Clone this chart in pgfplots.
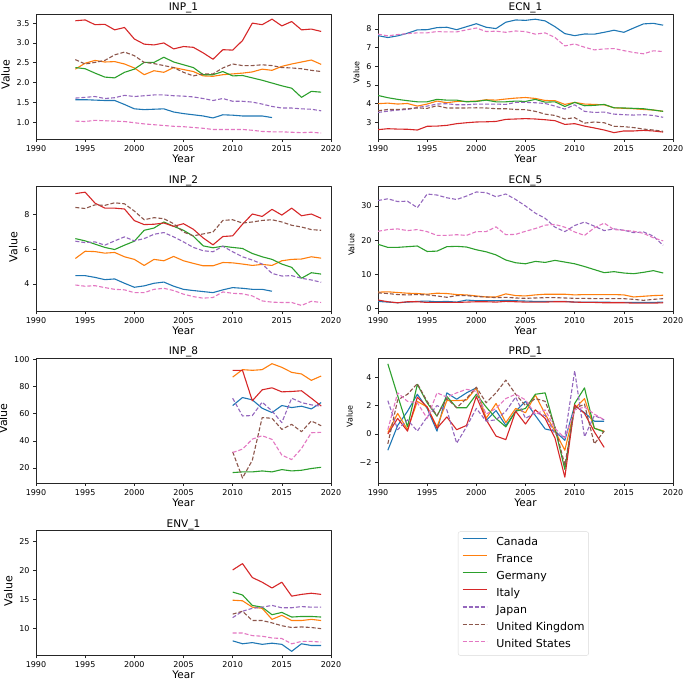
\documentclass[border=0pt]{standalone}
\usepackage{pgfplots}
\usepackage{pgfplotstable}
\pgfplotsset{compat=1.18}
\usepackage{fontspec}
\setmainfont{DejaVu Sans}
\definecolor{cCA}{HTML}{1F77B4}
\definecolor{cFR}{HTML}{FF7F0E}
\definecolor{cDE}{HTML}{2CA02C}
\definecolor{cIT}{HTML}{D62728}
\definecolor{cJP}{HTML}{9467BD}
\definecolor{cUK}{HTML}{8C564B}
\definecolor{cUS}{HTML}{E377C2}

\pgfplotstableread{
year CA FR DE IT JP UK US
1994 1.57 2.34 2.38 3.56 1.61 2.58 1.03
1995 1.57 2.49 2.35 3.58 1.63 2.47 1.02
1996 1.56 2.56 2.24 3.46 1.65 2.51 1.05
1997 1.55 2.52 2.14 3.47 1.60 2.56 1.04
1998 1.55 2.53 2.12 3.33 1.62 2.70 1.03
1999 1.45 2.47 2.26 3.39 1.68 2.77 1.02
2000 1.34 2.37 2.34 3.10 1.65 2.68 0.99
2001 1.32 2.20 2.51 2.97 1.67 2.51 0.96
2002 1.33 2.30 2.51 2.95 1.69 2.48 0.94
2003 1.34 2.26 2.64 3.00 1.69 2.43 0.92
2004 1.26 2.38 2.52 2.85 1.67 2.38 0.90
2005 1.22 2.33 2.45 2.91 1.66 2.26 0.89
2006 1.19 2.28 2.38 2.89 1.64 2.17 0.87
2007 1.16 2.17 2.20 2.75 1.60 2.22 0.85
2008 1.11 2.16 2.20 2.59 1.55 2.22 0.82
2009 1.19 2.20 2.28 2.83 1.60 2.37 0.82
2010 1.18 2.22 2.17 2.82 1.53 2.47 0.82
2011 1.16 2.24 2.18 3.06 1.53 2.43 0.82
2012 1.16 2.27 2.12 3.50 1.51 2.43 0.80
2013 1.16 2.34 2.06 3.46 1.46 2.45 0.77
2014 1.12 2.31 1.99 3.60 1.40 2.43 0.76
2015 nan 2.41 1.92 3.43 1.36 2.38 0.76
2016 nan 2.47 1.86 3.54 1.36 2.37 0.75
2017 nan 2.52 1.63 3.33 1.34 2.35 0.74
2018 nan 2.57 1.78 3.35 1.33 2.31 0.75
2019 nan 2.46 1.76 3.29 1.29 2.28 0.73
}\tINPa

\pgfplotstableread{
year CA FR DE IT JP UK US
1990 7.64 4.00 4.44 2.61 3.53 3.62 7.72
1991 7.54 4.03 4.32 2.66 3.60 3.69 7.63
1992 7.63 3.98 4.23 2.64 3.66 3.69 7.70
1993 7.77 4.01 4.16 2.63 3.69 3.73 7.75
1994 7.95 3.87 4.10 2.59 3.80 3.77 7.79
1995 7.96 3.98 4.10 2.79 3.87 3.75 7.79
1996 8.07 4.14 4.23 2.80 3.98 3.89 7.86
1997 8.09 4.05 4.19 2.84 4.00 3.77 7.84
1998 7.96 4.12 4.19 2.93 3.94 3.77 7.84
1999 8.12 4.12 4.10 2.98 3.94 3.77 7.95
2000 8.28 4.14 4.12 3.02 3.98 3.78 8.05
2001 8.09 4.21 4.19 3.03 3.98 3.77 7.86
2002 8.02 4.19 4.10 3.05 3.98 3.73 7.88
2003 8.36 4.25 4.10 3.16 3.96 3.73 7.82
2004 8.48 4.30 4.14 3.18 4.07 3.69 7.89
2005 8.46 4.33 4.12 3.20 4.07 3.68 7.86
2006 8.52 4.28 4.23 3.18 4.05 3.59 7.72
2007 8.43 4.17 4.08 3.14 4.01 3.44 7.79
2008 8.12 4.16 4.10 3.09 3.87 3.37 7.54
2009 7.75 3.96 3.85 2.89 3.71 3.18 7.09
2010 7.64 4.07 4.07 2.93 3.94 3.25 7.20
2011 7.73 3.98 3.89 2.80 3.59 2.96 7.02
2012 7.72 3.96 3.91 2.70 3.53 3.02 6.88
2013 7.82 3.94 3.96 2.59 3.55 2.98 6.93
2014 7.93 3.78 3.78 2.45 3.44 2.79 6.95
2015 7.82 3.75 3.77 2.54 3.41 2.77 6.84
2016 8.05 3.73 3.75 2.54 3.39 2.72 6.74
2017 8.27 3.69 3.73 2.57 3.41 2.64 6.67
2018 8.30 3.66 3.66 2.54 3.37 2.59 6.83
2019 8.20 3.59 3.59 2.48 3.27 2.52 6.79
}\tECNa

\pgfplotstableread{
year CA FR DE IT JP UK US
1994 4.48 5.47 6.62 9.22 6.47 8.42 3.94
1995 4.48 5.89 6.49 9.30 6.39 8.36 3.87
1996 4.38 5.87 6.30 8.67 6.43 8.57 3.90
1997 4.25 5.78 6.11 8.38 6.24 8.54 3.79
1998 4.29 5.82 5.99 8.38 6.49 8.69 3.69
1999 4.04 5.57 6.24 8.33 6.72 8.63 3.66
2000 3.81 5.42 6.47 7.66 6.49 8.21 3.50
2001 3.89 5.07 7.10 7.43 6.62 7.71 3.50
2002 4.04 5.42 7.23 7.45 6.87 7.83 3.69
2003 4.11 5.34 7.58 7.52 6.97 7.77 3.75
2004 3.87 5.59 7.33 7.33 6.72 7.48 3.62
2005 3.69 5.34 7.10 7.48 6.43 7.00 3.41
2006 3.62 5.19 6.76 7.16 6.11 6.78 3.27
2007 3.56 5.05 6.20 6.66 5.92 6.89 3.18
2008 3.50 5.05 6.09 6.26 5.86 7.00 3.22
2009 3.66 5.24 6.18 6.74 6.18 7.67 3.54
2010 3.79 5.22 6.11 6.78 5.86 7.71 3.46
2011 3.75 5.15 6.05 7.45 5.57 7.52 3.43
2012 3.69 5.07 5.76 8.04 5.38 7.58 3.31
2013 3.69 5.13 5.57 7.90 5.15 7.67 3.02
2014 3.58 5.07 5.42 8.31 4.61 7.71 2.95
2015 nan 5.34 5.15 7.98 4.46 7.58 2.93
2016 nan 5.42 4.96 8.38 4.48 7.39 2.93
2017 nan 5.44 4.33 7.94 4.33 7.29 2.76
2018 nan 5.57 4.65 8.04 4.23 7.14 3.00
2019 nan 5.49 4.57 7.79 4.10 7.10 2.93
}\tINPb

\pgfplotstableread{
year CA FR DE IT JP UK US
1990 2.1 4.8 18.8 2.5 31.6 4.6 22.6
1991 1.9 4.9 17.9 2.0 32.1 4.4 23.1
1992 1.7 4.7 17.9 1.7 31.3 4.1 23.3
1993 1.9 4.5 18.1 2.0 31.4 4.0 22.8
1994 2.1 4.4 18.3 2.0 29.5 4.1 23.1
1995 2.2 4.2 16.7 1.8 33.5 4.0 22.5
1996 2.0 4.5 16.8 1.8 33.2 3.7 21.4
1997 2.1 4.4 18.1 1.8 32.4 3.3 21.4
1998 1.9 4.1 18.2 1.8 31.9 3.8 21.6
1999 2.5 4.0 18.0 1.9 32.9 3.8 21.4
2000 2.3 3.7 17.2 2.0 34.1 3.5 22.5
2001 2.3 3.4 16.6 2.0 33.9 3.4 22.5
2002 2.3 3.4 15.7 1.9 32.7 3.2 23.9
2003 2.4 4.3 14.2 2.1 33.5 3.3 21.6
2004 2.3 3.8 13.4 2.0 31.9 3.1 21.7
2005 2.2 3.7 13.1 1.9 30.0 3.0 22.6
2006 2.1 4.0 13.8 1.9 27.9 3.1 23.4
2007 2.1 4.2 13.5 1.9 26.4 3.2 24.4
2008 2.1 4.2 14.1 2.0 23.8 3.2 24.6
2009 2.1 4.2 13.6 2.0 22.5 3.1 23.8
2010 1.9 4.0 13.1 1.9 24.3 3.0 22.4
2011 1.9 4.1 12.3 1.8 25.3 3.0 21.4
2012 1.9 4.1 11.4 1.8 24.1 2.9 23.6
2013 1.9 4.1 10.5 1.7 22.8 2.9 25.0
2014 1.8 4.1 10.8 1.7 23.3 2.9 23.1
2015 1.8 4.0 10.4 1.7 22.9 2.9 22.9
2016 1.8 3.4 10.2 1.6 22.2 2.7 22.6
2017 1.8 3.6 10.6 1.6 22.4 2.4 22.0
2018 1.8 3.8 11.1 1.6 21.2 2.7 20.7
2019 1.9 3.9 10.4 1.7 18.5 2.9 19.8
}\tECNb

\pgfplotstableread{
year CA FR DE IT JP UK US
2010 66.1 87.1 16.6 92.1 71.5 31.9 31.4
2011 72.0 92.6 17.1 92.1 58.4 12.6 33.9
2012 70.3 92.1 17.1 69.6 58.7 25.7 41.3
2013 64.1 92.6 17.8 77.7 68.6 57.2 43.8
2014 60.9 97.0 17.1 79.2 62.1 56.7 41.1
2015 66.1 94.3 18.8 76.2 53.5 48.5 29.5
2016 64.6 90.6 17.8 76.5 71.5 52.2 26.2
2017 65.6 89.4 18.3 77.0 68.3 46.8 34.4
2018 63.6 84.7 19.6 71.5 66.6 54.7 46.0
2019 68.3 87.9 20.5 65.8 65.6 51.2 46.3
}\tINPc

\pgfplotstableread{
year CA FR DE IT JP UK US
1991 -1.15 0.1 4.95 0.0 2.35 -0.7 0.3
1992 0.6 1.45 2.7 1.1 0.3 2.4 2.9
1993 1.6 0.3 0.5 0.2 1.0 2.8 2.3
1994 2.8 2.3 3.5 2.6 0.2 3.55 2.2
1995 1.8 1.9 2.2 1.9 1.2 2.3 1.1
1996 0.2 0.5 1.25 0.4 2.0 1.3 2.9
1997 2.9 2.35 2.65 1.2 1.7 2.5 2.6
1998 2.45 2.35 1.85 0.3 -0.65 1.85 2.9
1999 2.9 2.4 1.85 0.6 0.5 2.5 3.15
2000 3.25 3.25 2.8 2.65 1.8 3.3 3.0
2001 0.95 1.1 1.9 1.0 0.9 2.2 1.4
2002 1.65 2.15 1.1 -0.15 1.0 2.9 1.8
2003 0.6 0.8 0.5 -0.4 1.6 3.8 2.5
2004 1.6 1.8 1.6 1.6 2.6 2.8 2.8
2005 2.3 1.5 1.8 0.7 1.1 2.0 2.4
2006 1.3 2.75 2.8 1.7 1.5 2.5 1.4
2007 0.35 1.4 2.9 1.1 1.3 2.3 1.7
2008 0.2 0.2 0.4 -0.3 0.0 0.5 0.4
2009 -0.45 -1.15 -2.5 -3.05 -0.2 -2.2 -0.3
2010 2.0 1.8 2.15 2.05 4.45 1.8 1.7
2011 1.5 2.5 3.25 1.45 -0.2 2.1 1.9
2012 0.9 0.4 0.4 0.15 1.3 -0.7 1.4
2013 0.9 0.2 0.15 -0.95 1.0 0.2 1.0
}\tPRD

\pgfplotstableread{
year CA FR DE IT JP UK US
2010 7.9 14.9 16.3 20.1 11.9 12.5 9.25
2011 7.4 14.8 15.8 21.2 13.0 13.0 9.25
2012 7.6 13.7 14.0 18.8 13.5 11.4 8.8
2013 7.3 13.5 13.7 18.0 13.7 11.4 8.7
2014 7.5 11.6 12.4 17.0 14.0 11.0 8.4
2015 7.3 12.3 12.8 18.0 13.6 10.5 8.3
2016 6.1 11.4 12.0 15.6 13.6 10.2 7.4
2017 7.4 11.4 12.1 15.9 13.8 10.3 7.8
2018 7.1 11.6 12.1 16.1 13.7 10.2 7.8
2019 7.1 11.4 12.0 15.9 13.7 10.0 7.7
}\tENV

\newcommand{\plotall}[1]{%
  \addplot[cCA, line width=1.1pt] table[x=year,y=CA]{#1};
  \addplot[cFR, line width=1.1pt] table[x=year,y=FR]{#1};
  \addplot[cDE, line width=1.1pt] table[x=year,y=DE]{#1};
  \addplot[cIT, line width=1.1pt] table[x=year,y=IT]{#1};
  \addplot[cJP, line width=1.1pt, dash pattern=on 4pt off 2pt] table[x=year,y=JP]{#1};
  \addplot[cUK, line width=1.1pt, dash pattern=on 4pt off 2pt] table[x=year,y=UK]{#1};
  \addplot[cUS, line width=1.1pt, dash pattern=on 4pt off 2pt] table[x=year,y=US]{#1};
}

\pgfplotsset{
  base/.style={
    scale only axis, width=295pt, height=125pt, anchor=south west,
    xmin=1990, xmax=2020, xtick={1990,1995,...,2020},
    tick align=outside, major tick length=3pt,
    tick style={black!85, line width=0.6pt},
    axis line style={black!85, line width=0.6pt},
    xtick pos=bottom, ytick pos=left,
    ticklabel style={font=\fontsize{8}{9}\selectfont},
    /pgf/number format/assume math mode=true,
    /pgf/number format/1000 sep={},
    title style={font=\fontsize{10.5}{12}\selectfont, at={(axis description cs:0.5,1)}, anchor=base, yshift=-3pt},
    xlabel={Year},
    xlabel style={font=\fontsize{10.5}{12}\selectfont, at={(axis description cs:0.5,0)}, anchor=base, yshift=-23.5pt},
    ylabel={Value},
    line join=round,
  },
  leftcol/.style={base, ylabel style={font=\fontsize{11}{12}\selectfont, xshift=2pt}},
  rightcol/.style={base, ylabel style={font=\fontsize{8}{9}\selectfont, xshift=4pt}},
}

\begin{document}
\begin{tikzpicture}[x=1pt,y=1pt]
\path[use as bounding box] (0,0) rectangle (685,682);

% Row 1
\begin{axis}[leftcol, at={(36pt,543pt)}, title={INP\_1},
  ymin=0.58, ymax=3.73, ytick={1.0,1.5,...,3.5},
  yticklabel style={/pgf/number format/.cd, fixed, fixed zerofill, precision=1}]
\plotall{\tINPa}
\end{axis}

\begin{axis}[rightcol, at={(378pt,543pt)}, title={ECN\_1},
  ymin=2.11, ymax=8.8, ytick={3,4,5,6,7,8}]
\plotall{\tECNa}
\end{axis}

% Row 2
\begin{axis}[leftcol, at={(36pt,370.5pt)}, title={INP\_2},
  ymin=2.41, ymax=9.63, ytick={4,6,8}]
\plotall{\tINPb}
\end{axis}

\begin{axis}[rightcol, at={(378pt,370.5pt)}, title={ECN\_5},
  ymin=-0.85, ymax=35.7, ytick={0,10,20,30}]
\plotall{\tECNb}
\end{axis}

% Row 3
\begin{axis}[leftcol, at={(36pt,199pt)}, title={INP\_8},
  ymin=8.9, ymax=101.2, ytick={20,40,60,80,100}]
\plotall{\tINPc}
\end{axis}

\begin{axis}[rightcol, at={(378pt,199pt)}, title={PRD\_1},
  ymin=-3.46, ymax=5.36, ytick={-2,0,2,4}, yticklabels={−2,0,2,4}]
\plotall{\tPRD}
\end{axis}

% Row 4
\begin{axis}[leftcol, at={(36pt,26.5pt)}, title={ENV\_1},
  ymin=5.38, ymax=26.9, ytick={10,15,20,25},
  legend entries={Canada,France,Germany,Italy,Japan,United Kingdom,United States},
  legend cell align=left,
  legend image code/.code={\draw[#1, line width=1.1pt] (0pt,3.6pt) -- (24pt,3.6pt);},
  legend style={at={(axis description cs:1.4305,0.992)}, anchor=north west,
    draw=black!15, rounded corners=2pt, fill=white,
    font=\fontsize{11}{13}\selectfont,
    nodes={inner sep=0pt, text height=8.5pt, text depth=2.6pt},
    /tikz/every odd column/.append style={column sep=9pt},
    row sep=6pt, inner xsep=4pt, inner ysep=5pt}]
\plotall{\tENV}
\end{axis}

\end{tikzpicture}
\end{document}
